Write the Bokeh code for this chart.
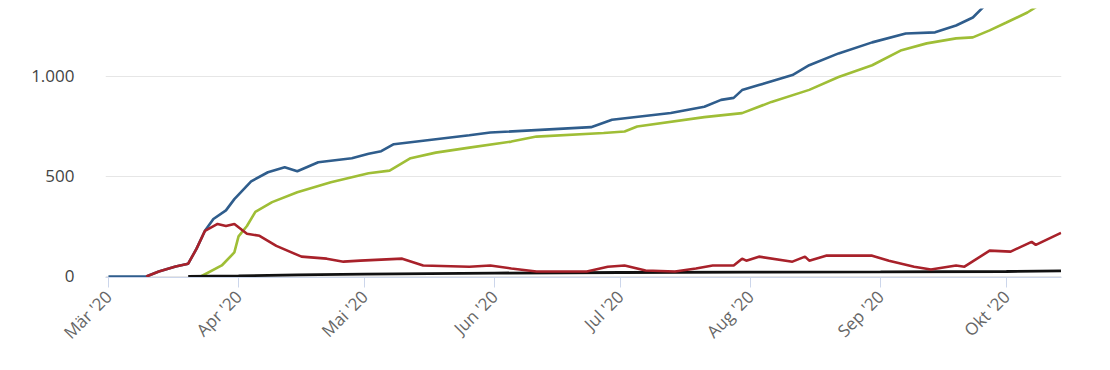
import pandas as pd
from datetime import datetime
from bokeh.plotting import figure
from bokeh.models import Range1d, FixedTicker, CustomJSTickFormatter
from bokeh.embed import file_html
from bokeh.resources import INLINE

# ---- data ----
total_dates = ["2020-03-01", "2020-03-10", "2020-03-13", "2020-03-17", "2020-03-20", "2020-03-22",
               "2020-03-24", "2020-03-26", "2020-03-29", "2020-03-31", "2020-04-04", "2020-04-08",
               "2020-04-12", "2020-04-15", "2020-04-20", "2020-04-28", "2020-05-02", "2020-05-05",
               "2020-05-08", "2020-05-26", "2020-05-31", "2020-06-24", "2020-06-29", "2020-07-13",
               "2020-07-21", "2020-07-25", "2020-07-28", "2020-07-30", "2020-08-03", "2020-08-11",
               "2020-08-15", "2020-08-22", "2020-08-30", "2020-09-07", "2020-09-14", "2020-09-19",
               "2020-09-23", "2020-09-27", "2020-10-04", "2020-10-07", "2020-10-11", "2020-10-14"]
total_vals = [0, 0, 25, 50, 64, 139, 228, 287, 330, 386, 475, 520, 545, 525, 570, 590, 612, 625,
              660, 705, 718, 745, 782, 816, 847, 881, 891, 930, 955, 1005, 1054, 1113, 1168, 1212,
              1218, 1252, 1292, 1376, 1445, 1535, 1580, 1665]

recovered_dates = ["2020-03-23", "2020-03-28", "2020-03-31", "2020-04-01", "2020-04-03", "2020-04-05",
                   "2020-04-09", "2020-04-15", "2020-04-23", "2020-05-02", "2020-05-07", "2020-05-12",
                   "2020-05-18", "2020-05-26", "2020-06-05", "2020-06-11", "2020-06-27", "2020-07-02",
                   "2020-07-05", "2020-07-21", "2020-07-30", "2020-08-06", "2020-08-15", "2020-08-22",
                   "2020-08-30", "2020-09-06", "2020-09-12", "2020-09-19", "2020-09-23", "2020-09-27",
                   "2020-10-01", "2020-10-06", "2020-10-10", "2020-10-14"]
recovered_vals = [0, 55, 120, 200, 252, 322, 371, 420, 470, 515, 528, 590, 618, 643, 673, 698, 716,
                  723, 748, 795, 815, 871, 931, 995, 1054, 1129, 1163, 1188, 1193, 1228, 1267, 1317,
                  1370, 1420]

active_dates = ["2020-03-10", "2020-03-13", "2020-03-17", "2020-03-20", "2020-03-22", "2020-03-24",
                "2020-03-27", "2020-03-29", "2020-03-31", "2020-04-03", "2020-04-06", "2020-04-10",
                "2020-04-16", "2020-04-22", "2020-04-26", "2020-04-30", "2020-05-10", "2020-05-15",
                "2020-05-26", "2020-05-31", "2020-06-05", "2020-06-11", "2020-06-23", "2020-06-28",
                "2020-07-02", "2020-07-07", "2020-07-14", "2020-07-19", "2020-07-23", "2020-07-28",
                "2020-07-30", "2020-07-31", "2020-08-03", "2020-08-11", "2020-08-14", "2020-08-15",
                "2020-08-19", "2020-08-30", "2020-09-03", "2020-09-09", "2020-09-13", "2020-09-19",
                "2020-09-21", "2020-09-27", "2020-10-02", "2020-10-07", "2020-10-08", "2020-10-14"]
active_vals = [0, 25, 50, 64, 139, 228, 262, 252, 262, 213, 203, 153, 99, 89, 74, 79, 89, 55, 49, 55,
               40, 25, 25, 49, 55, 30, 25, 40, 55, 55, 89, 79, 99, 74, 99, 79, 104, 104, 79, 49, 35,
               55, 49, 129, 124, 173, 158, 218]

deaths_dates = ["2020-03-20", "2020-04-01", "2020-04-15", "2020-05-01", "2020-06-01", "2020-07-01",
                "2020-08-01", "2020-09-01", "2020-10-01", "2020-10-14"]
deaths_vals = [0, 3, 8, 12, 17, 20, 22, 23, 25, 28]

month_ticks = ["2020-03-01", "2020-04-01", "2020-05-01", "2020-06-01", "2020-07-01",
               "2020-08-01", "2020-09-01", "2020-10-01"]
month_labels = ["Mär '20", "Apr '20", "Mai '20", "Jun '20", "Jul '20", "Aug '20", "Sep '20", "Okt '20"]
y_ticks = [0, 500, 1000, 1500]

# ---- figure ----
p = figure(width=1094, height=354, output_backend="svg", toolbar_location=None,
           x_axis_type="datetime",
           x_range=Range1d(datetime(2020, 2, 29, 7), datetime(2020, 10, 14, 3)),
           y_range=Range1d(-5, 1337),
           min_border_left=105, min_border_right=33, min_border_top=8, min_border_bottom=75)
p.outline_line_color = None
p.background_fill_color = "white"
p.border_fill_color = "white"

def dt(lst):
    return pd.to_datetime(lst)

p.line(dt(total_dates), total_vals, line_color="#2f5d8c", line_width=2.6)
p.line(dt(recovered_dates), recovered_vals, line_color="#9fbe36", line_width=2.6)
p.line(dt(deaths_dates), deaths_vals, line_color="#111111", line_width=2.8)
p.line(dt(active_dates), active_vals, line_color="#a8212a", line_width=2.6)

# grid
p.xgrid.grid_line_color = None
p.ygrid.grid_line_color = "#e6e6e6"
p.ygrid.grid_line_width = 1

# y axis
p.yaxis.ticker = FixedTicker(ticks=y_ticks)
p.yaxis.formatter = CustomJSTickFormatter(code="""
    return String(Math.round(tick)).replace(/\\B(?=(\\d{3})+(?!\\d))/g, '.');
""")
p.yaxis.axis_line_color = None
p.yaxis.major_tick_line_color = None
p.yaxis.minor_tick_line_color = None
p.yaxis.major_label_standoff = 25
p.yaxis.major_label_text_font = "Open Sans"
p.yaxis.major_label_text_font_size = "17px"
p.yaxis.major_label_text_color = "#444444"

# x axis
tick_ms = [pd.Timestamp(t).value / 1e6 for t in month_ticks]
p.xaxis.ticker = FixedTicker(ticks=tick_ms)
p.xaxis.formatter = CustomJSTickFormatter(args=dict(mticks=tick_ms, mlabels=month_labels), code="""
    for (let i = 0; i < mticks.length; i++) {
        if (Math.abs(mticks[i] - tick) < 1000) { return mlabels[i]; }
    }
    return '';
""")
p.xaxis.axis_line_color = "#ccd6eb"
p.xaxis.major_tick_line_color = "#ccd6eb"
p.xaxis.major_tick_out = 10
p.xaxis.major_tick_in = 0
p.xaxis.minor_tick_line_color = None
p.xaxis.major_label_orientation = 0.785398
p.xaxis.major_label_standoff = 6
p.xaxis.major_label_text_font = "Open Sans"
p.xaxis.major_label_text_font_size = "17px"
p.xaxis.major_label_text_color = "#666666"

open("out.html", "w").write(file_html(p, INLINE))
